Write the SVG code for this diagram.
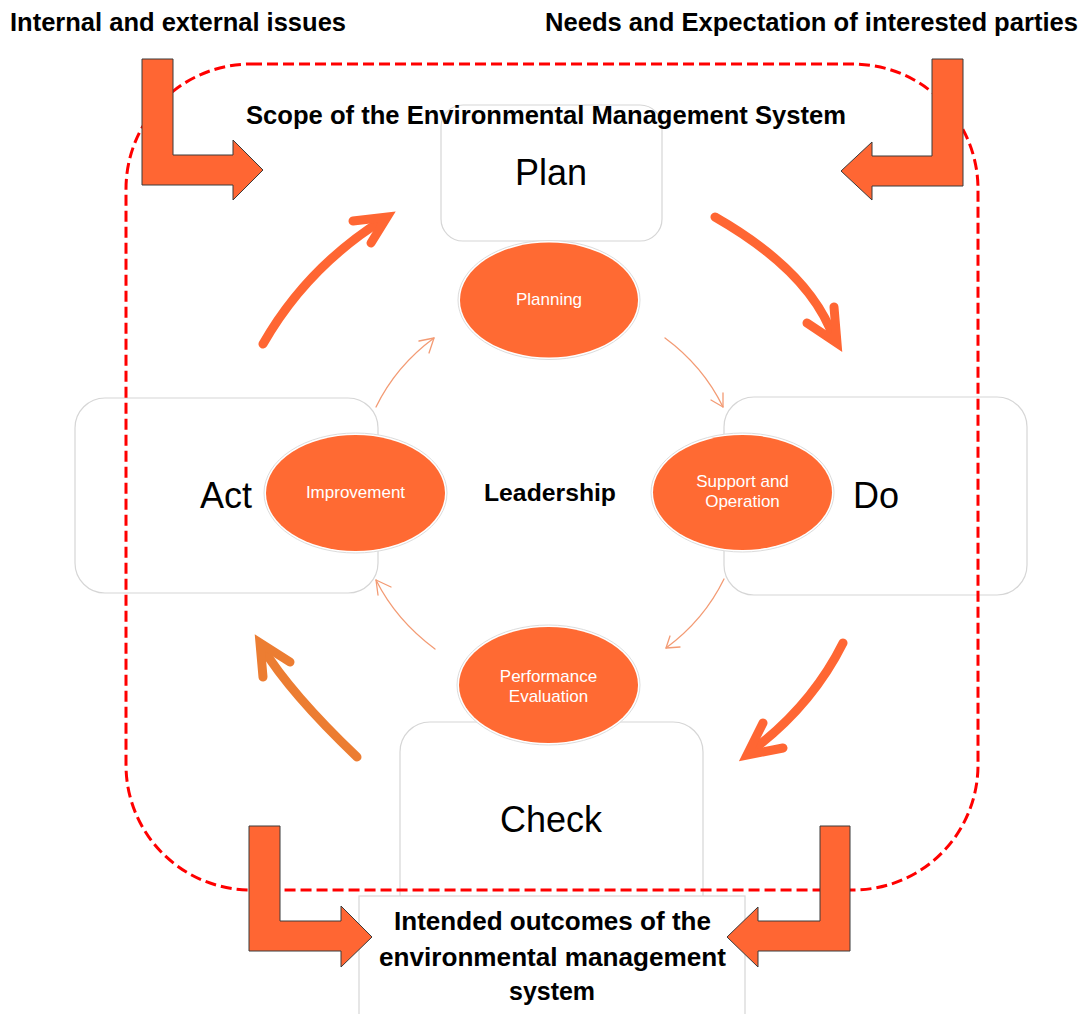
<svg xmlns="http://www.w3.org/2000/svg" width="1088" height="1014" viewBox="0 0 1088 1014">
<style>
.box{fill:#fff;stroke:#d6d6d6;stroke-width:1.2}
.halo{fill:#fff;stroke:#dcdcdc;stroke-width:1}
.ell{fill:#FF6A33}
.etxt{font-family:"Liberation Sans",Arial,sans-serif;font-size:17px;fill:#fff;text-anchor:middle}
.phase{font-family:"Liberation Sans",Arial,sans-serif;font-size:36px;fill:#000;text-anchor:middle}
.bold{font-family:"Liberation Sans",Arial,sans-serif;font-weight:bold;fill:#000}
.lar{fill:#FF6633;stroke:#3a3a3a;stroke-width:1}
.big{fill:none;stroke:#FF6633;stroke-width:9;stroke-linecap:round}
.bighead{fill:none;stroke:#FF6633;stroke-width:9;stroke-linecap:round;stroke-linejoin:miter;stroke-miterlimit:10}
.thin{fill:none;stroke:#F39B74;stroke-width:1.3;stroke-linecap:round;stroke-linejoin:round}
.scope{fill:none;stroke:#F00;stroke-width:3;stroke-dasharray:11 5}
</style>

<!-- phase boxes -->
<g id="plan-box"><rect class="box" x="441" y="105" width="221" height="136" rx="22"/></g>
<g id="act-box"><rect class="box" x="75" y="398" width="303" height="195" rx="30"/></g>
<g id="do-box"><rect class="box" x="724" y="397" width="303" height="198" rx="30"/></g>
<g id="check-box"><rect class="box" x="400" y="722" width="303" height="230" rx="30"/></g>
<g id="outcomes-box"><rect class="box" x="359" y="896" width="386" height="130"/></g>

<!-- scope boundary -->
<g id="scope"><rect class="scope" x="126" y="64" width="852" height="826" rx="125" ry="125"/></g>

<!-- texts of boxes -->
<g id="plan-text"><text class="phase" x="551" y="185">Plan</text></g>
<g id="act-text"><text class="phase" x="226" y="508">Act</text></g>
<g id="do-text"><text class="phase" x="876" y="508">Do</text></g>
<g id="check-text"><text class="phase" x="551" y="832">Check</text></g>

<g id="title-scope"><text class="bold" x="246" y="124" font-size="25" textLength="600" lengthAdjust="spacingAndGlyphs">Scope of the Environmental Management System</text></g>
<g id="input-internal"><text class="bold" x="10" y="31" font-size="25" textLength="336" lengthAdjust="spacingAndGlyphs">Internal and external issues</text></g>
<g id="input-needs"><text class="bold" x="545" y="31" font-size="25" textLength="533" lengthAdjust="spacingAndGlyphs">Needs and Expectation of interested parties</text></g>
<g id="leadership"><text class="bold" x="484" y="501" font-size="23" textLength="132" lengthAdjust="spacingAndGlyphs">Leadership</text></g>
<g id="outcomes-text">
<text class="bold" x="394" y="930" font-size="26" textLength="317" lengthAdjust="spacingAndGlyphs">Intended outcomes of the</text>
<text class="bold" x="379" y="966" font-size="26" textLength="347" lengthAdjust="spacingAndGlyphs">environmental management</text>
<text class="bold" x="509" y="1000" font-size="26" textLength="86" lengthAdjust="spacingAndGlyphs">system</text>
</g>

<!-- ellipses -->
<g id="planning">
<ellipse class="halo" cx="549" cy="300" rx="91" ry="59.5"/>
<ellipse class="ell" cx="549" cy="300" rx="89" ry="57.5"/>
<text class="etxt" x="549" y="305">Planning</text>
</g>
<g id="improvement">
<ellipse class="halo" cx="355.5" cy="493" rx="91.5" ry="60"/>
<ellipse class="ell" cx="355.5" cy="493" rx="89.5" ry="58"/>
<text class="etxt" x="355.5" y="498">Improvement</text>
</g>
<g id="support">
<ellipse class="halo" cx="742.5" cy="492.5" rx="91.5" ry="59.5"/>
<ellipse class="ell" cx="742.5" cy="492.5" rx="89.5" ry="57.5"/>
<text class="etxt" x="742.5" y="487">Support and</text>
<text class="etxt" x="742.5" y="507">Operation</text>
</g>
<g id="performance">
<ellipse class="halo" cx="548.5" cy="685" rx="91.5" ry="60"/>
<ellipse class="ell" cx="548.5" cy="685" rx="89.5" ry="58"/>
<text class="etxt" x="548.5" y="682">Performance</text>
<text class="etxt" x="548.5" y="702">Evaluation</text>
</g>

<!-- connectors -->
<g id="connectors">
<!-- L-shaped input/output arrows -->
<polygon class="lar" points="142,59 173,59 173,155 233,155 233,140 263,170 233,200 233,185 142,185"/>
<polygon class="lar" points="963,59 932,59 932,156 872,156 872,142 841,171 872,200 872,186 963,186"/>
<polygon class="lar" points="249,826 280,826 280,921 341,921 341,906 372,937 341,967 341,951 249,951"/>
<polygon class="lar" points="850,826 820,826 820,921 758,921 758,907 727,937 758,967 758,951 850,951"/>

<!-- big PDCA arrows -->
<path class="big" d="M263,344 Q307,267 384,219"/>
<polyline class="bighead" points="353,221 387,217 371,243"/>
<path class="big" d="M715,217 Q811,272 834,339"/>
<polyline class="bighead" points="807,323 837,343 834,307"/>
<path class="big" d="M843,643 Q811,707 750,752"/>
<polyline class="bighead" points="763,723 747,755 783,748"/>
<path class="big" d="M357,757 Q290,693 262,647" style="stroke:#EC7D32"/>
<polyline class="bighead" points="263,677 260,643 290,662" style="stroke:#EC7D32"/>

<!-- thin inner arrows -->
<path class="thin" d="M376,407 Q396,366 434,338"/>
<polyline class="thin" points="419,341 434,338 429,353"/>
<path class="thin" d="M665,338 Q703,366 723,407"/>
<polyline class="thin" points="711,400 723,407 723,393"/>
<path class="thin" d="M724,579 Q704,620 666,648"/>
<polyline class="thin" points="670,636 666,648 680,647"/>
<path class="thin" d="M435,649 Q396,620 376,580"/>
<polyline class="thin" points="391,587 376,580 378,595"/>
</g>
</svg>
